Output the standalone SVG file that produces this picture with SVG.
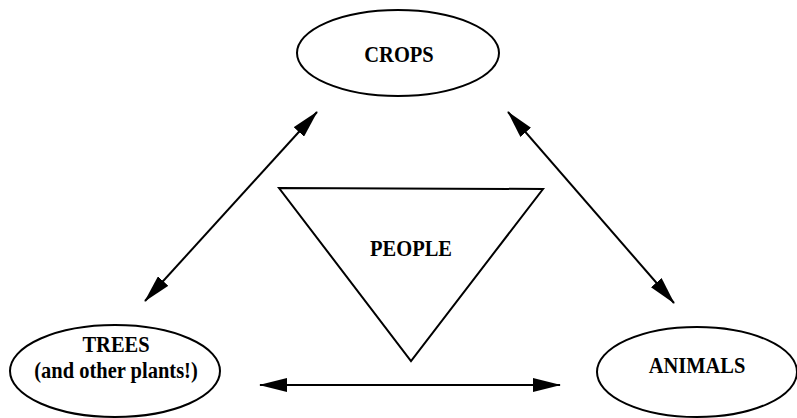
<svg xmlns="http://www.w3.org/2000/svg" width="797" height="418" viewBox="0 0 797 418">
<style>
.shape{fill:#fff;stroke:#000;stroke-width:2}
.lbl{font-family:"Liberation Serif","Times New Roman",serif;font-weight:bold;font-size:20.5px;fill:#000;text-anchor:middle}
.conn{stroke:#000;stroke-width:2;fill:none;marker-start:url(#head);marker-end:url(#head)}
</style>
<defs>
<marker id="head" viewBox="0 0 28 14" refX="27" refY="7" markerWidth="28" markerHeight="14" markerUnits="userSpaceOnUse" orient="auto-start-reverse">
<path d="M0,0 L28,7 L0,14 z" fill="#000"/>
</marker>
</defs>
<rect width="797" height="418" fill="#fff"/>
<g id="crops">
<ellipse class="shape" cx="398" cy="53" rx="101" ry="43"/>
<text class="lbl" transform="translate(399,62) scale(1,1.1)">CROPS</text>
</g>
<g id="trees">
<ellipse class="shape" cx="115" cy="371" rx="105" ry="46"/>
<text class="lbl" transform="translate(116,352) scale(1,1.1)">TREES</text>
<text class="lbl" transform="translate(116,378) scale(1,1.1)">(and other plants!)</text>
</g>
<g id="animals">
<ellipse class="shape" cx="697" cy="372" rx="100" ry="45"/>
<text class="lbl" transform="translate(697,373) scale(1,1.1)">ANIMALS</text>
</g>
<g id="people">
<polygon class="shape" points="279,188 543,189 411,361"/>
<text class="lbl" transform="translate(411,256) scale(1,1.1)">PEOPLE</text>
</g>
<g id="connectors">
<line class="conn" x1="145" y1="301" x2="317" y2="112"/>
<line class="conn" x1="508" y1="112" x2="674" y2="303"/>
<line class="conn" x1="260" y1="385" x2="560" y2="385"/>
</g>
</svg>
